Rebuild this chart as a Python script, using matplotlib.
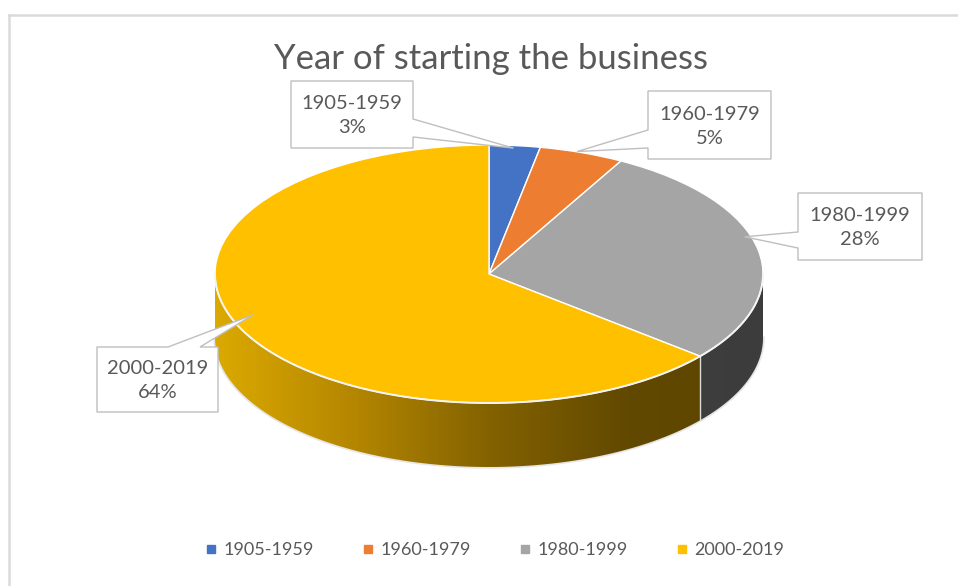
import numpy as np
import matplotlib
matplotlib.use('Agg')
import matplotlib.pyplot as plt
from matplotlib.patches import Polygon
from matplotlib.colors import LinearSegmentedColormap
from matplotlib.lines import Line2D

plt.rcParams['font.family'] = ['Lato', 'DejaVu Sans']

# data
labels = ['1905-1959', '1960-1979', '1980-1999', '2000-2019']
shares = [3, 5, 28, 64]
colors = ['#4472C4', '#ED7D31', '#A5A5A5', '#FFC000']
side_shades = [['#2f528f', '#2f528f'],
               ['#ae5a21', '#ae5a21'],
               ['#4a4a4a', '#3c3c3c'],
               ['#dcaa00', '#b58700', '#836200', '#624900', '#5c4500']]
title = 'Year of starting the business'

# layout (pixels)
W, H = 958, 586
CX, CY, A, B, DEPTH = 489, 274, 274, 129, 64
d = DEPTH / B
boxes = [(291, 81, 413, 148, 'right', 119, 137),
         (648, 91, 771, 159, 'left', 130, 148),
         (798, 193, 922, 260, 'left', 232, 248),
         (97, 347, 218, 412, 'top', 168, 200)]
TXT = '#595959'

fig = plt.figure(figsize=(W / 100, H / 100), dpi=100)
ax = fig.add_axes([0, 0, 1, 1])

wedges, _ = ax.pie(shares, colors=colors, startangle=90, counterclock=False,
                   radius=1, wedgeprops=dict(edgecolor='white', linewidth=1, zorder=3))

# ****** side walls of the 3d pie ******
for w, shades in zip(wedges, side_shades):
    for k in (-360, 0, 360):
        lo = max(w.theta1 + k, -180)
        hi = min(w.theta2 + k, 0)
        if hi <= lo:
            continue
        t = np.radians(np.linspace(lo, hi, 120))
        top = np.column_stack([np.cos(t), np.sin(t)])
        bot = np.column_stack([np.cos(t), np.sin(t) - d])[::-1]
        poly = Polygon(np.vstack([top, bot]), closed=True, facecolor='none',
                       edgecolor='none', transform=ax.transData)
        ax.add_patch(poly)
        cmap = LinearSegmentedColormap.from_list('side', shades)
        grad = np.tile(np.linspace(0, 1, 256), (2, 1))
        im = ax.imshow(grad, cmap=cmap, extent=(-1.01, 1.01, -1 - d - 0.02, 0.02),
                       aspect='auto', zorder=2, interpolation='bilinear')
        im.set_clip_path(poly)
        # light edge where the wall starts
        if lo > -180:
            ax.plot([np.cos(t[0])] * 2, [np.sin(t[0]), np.sin(t[0]) - d],
                    color='#d9d9d9', lw=1, zorder=2.5)

# rim highlight and soft shadow
tt = np.radians(np.linspace(-180, 0, 200))
ax.plot(np.cos(tt), np.sin(tt), color='#f4f4f4', lw=1.4, zorder=4)
ax.plot(np.cos(tt), np.sin(tt) - d, color='#cfcfcf', lw=2.5, alpha=0.5, zorder=1)

ax.set_aspect('auto')
ax.set_xlim(-CX / A, (W - CX) / A)
ax.set_ylim(-(H - CY) / B, CY / B)
ax.axis('off')

# ****** overlay in pixel coords: border, title, callouts ******
ov = fig.add_axes([0, 0, 1, 1], facecolor='none')
ov.set_xlim(0, W)
ov.set_ylim(H, 0)
ov.axis('off')
ov.plot([9, W], [15, 15], color='#dadada', lw=1.8)
ov.plot([9, 9], [15, H], color='#dadada', lw=1.8)
ov.text(491, 59, title, ha='center', va='center', fontsize=25, color=TXT)

for w, lab, val, bx in zip(wedges, labels, shares, boxes):
    x0, y0, x1, y1, side, b1, b2 = bx
    m = np.radians((w.theta1 + w.theta2) / 2)
    # pull the tip a bit inward to mimic Excel's perspective
    tip = (CX + 0.95 * A * np.cos(m),
           CY - 0.97 * B * np.sin(m) - 14 * abs(np.cos(m)))
    if side == 'top':
        verts = [(x0, y0), (b1, y0), tip, (b2, y0), (x1, y0), (x1, y1), (x0, y1)]
    elif side == 'right':
        verts = [(x0, y0), (x1, y0), (x1, b1), tip, (x1, b2), (x1, y1), (x0, y1)]
    else:
        verts = [(x0, y0), (x1, y0), (x1, y1), (x0, y1), (x0, b2), tip, (x0, b1)]
    ov.add_patch(Polygon(verts, closed=True, facecolor='white',
                         edgecolor='#bfbfbf', lw=1, zorder=5))
    ov.text((x0 + x1) / 2, (y0 + y1) / 2 + 1, f'{lab}\n{val}%', ha='center',
            va='center', fontsize=14.5, color=TXT, linespacing=1.5, zorder=6)

# legend
handles = [Line2D([], [], marker='s', linestyle='none', color=c, markersize=5.5)
           for c in colors]
fig.legend(handles, labels, loc='center', bbox_to_anchor=(493 / W, 1 - 550 / H),
           ncol=4, frameon=False, fontsize=13, handletextpad=0.2,
           columnspacing=2.5, handlelength=1.0, labelcolor=TXT)

plt.savefig('out.png', dpi=100)
